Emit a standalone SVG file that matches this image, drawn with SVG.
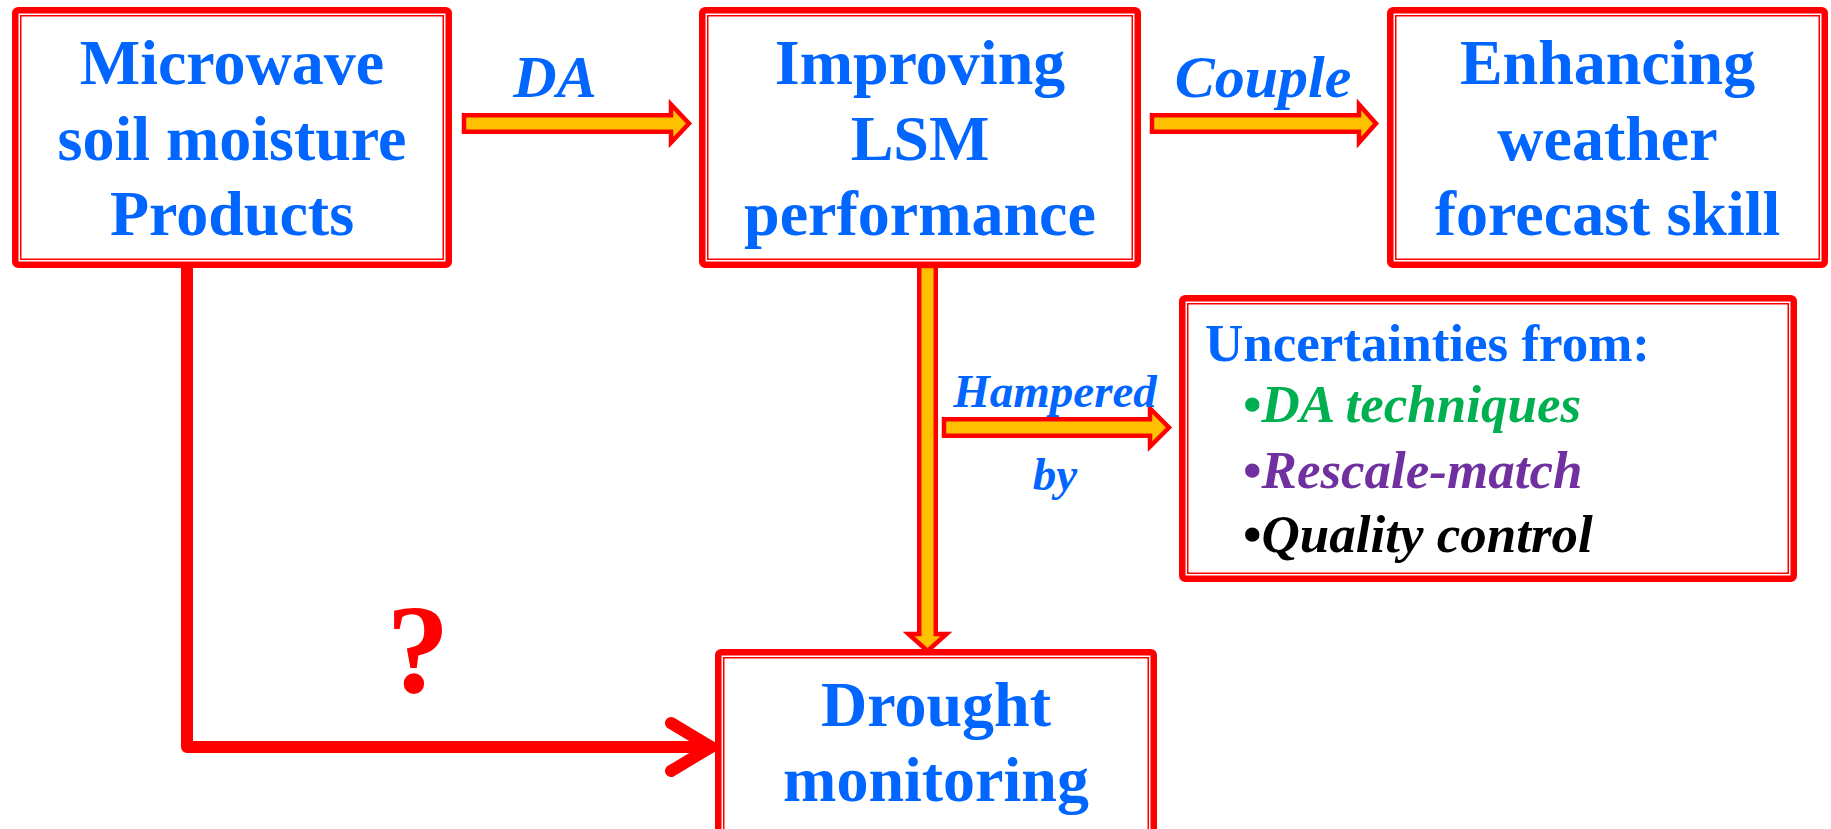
<svg xmlns="http://www.w3.org/2000/svg" width="1831" height="829" viewBox="0 0 1831 829">
<style>
.outer{fill:#fff;stroke:#ff0000;stroke-width:6.5}
.inner{fill:none;stroke:#ff0000;stroke-width:1.5}
.t{font-family:"Liberation Serif","Times New Roman",serif;font-weight:bold;fill:#0066ff;font-size:64px;text-anchor:middle}
.lbl{font-family:"Liberation Serif","Times New Roman",serif;font-weight:bold;font-style:italic;fill:#0066ff;text-anchor:middle}
.u{font-family:"Liberation Serif","Times New Roman",serif;font-weight:bold;font-size:53px}
.blk{fill:#ffc000;stroke:#ff0000;stroke-width:4.5;stroke-linejoin:miter}
.redline{fill:none;stroke:#ff0000;stroke-width:12;stroke-linejoin:round;stroke-linecap:round}
</style>
<rect width="1831" height="829" fill="#fff"/>
<g id="connectors">
<path class="redline" d="M187,268 V747 H711"/>
<path class="redline" d="M671,723 L711,747 L671,771"/>
<text x="418" y="692" font-family="Liberation Serif, Times New Roman, serif" font-weight="bold" font-size="126" fill="#ff0000" text-anchor="middle">?</text>
<path class="blk" d="M464,115.25 H671 V104.5 L689,123.5 L671,142.5 V131.75 H464 Z"/>
<text class="lbl" x="555" y="97" font-size="60">DA</text>
<path class="blk" d="M1152,115.25 H1359 V104.5 L1376,123.5 L1359,142.5 V131.75 H1152 Z"/>
<text class="lbl" x="1263" y="97" font-size="60">Couple</text>
<path class="blk" d="M919.25,266 V634 H908.5 L927.5,651 L946.5,634 H935.75 V266 Z"/>
<path class="blk" d="M944,419.25 H1150 V408.5 L1169,427.5 L1150,446.5 V435.75 H944 Z"/>
<text class="lbl" x="1055" y="407" font-size="47">Hampered</text>
<text class="lbl" x="1055" y="490" font-size="47">by</text>
</g>
<g id="node-microwave">
<rect class="outer" x="15.25" y="10.25" width="433.5" height="254.5" rx="3"/>
<rect class="inner" x="20.75" y="15.75" width="422.5" height="243.5"/>
<text class="t" x="232" y="84">Microwave</text>
<text class="t" x="232" y="160">soil moisture</text>
<text class="t" x="232" y="235">Products</text>
</g>
<g id="node-lsm">
<rect class="outer" x="702.25" y="10.25" width="435.5" height="254.5" rx="3"/>
<rect class="inner" x="707.75" y="15.75" width="424.5" height="243.5"/>
<text class="t" x="920" y="84">Improving</text>
<text class="t" x="920" y="160">LSM</text>
<text class="t" x="920" y="235">performance</text>
</g>
<g id="node-weather">
<rect class="outer" x="1390.25" y="10.25" width="434.5" height="254.5" rx="3"/>
<rect class="inner" x="1395.75" y="15.75" width="423.5" height="243.5"/>
<text class="t" x="1607.5" y="84">Enhancing</text>
<text class="t" x="1607.5" y="160">weather</text>
<text class="t" x="1607.5" y="235">forecast skill</text>
</g>
<g id="node-uncertainties">
<rect class="outer" x="1182.25" y="298.25" width="611.5" height="280.5" rx="3"/>
<rect class="inner" x="1187.75" y="303.75" width="600.5" height="269.5"/>
<text class="u" x="1205" y="361" fill="#0066ff">Uncertainties from:</text>
<text class="u" x="1243" y="422" fill="#00b050">•<tspan font-style="italic">DA techniques</tspan></text>
<text class="u" x="1243" y="488" fill="#7030a0">•<tspan font-style="italic">Rescale-match</tspan></text>
<text class="u" x="1243" y="552" fill="#000000">•<tspan font-style="italic">Quality control</tspan></text>
</g>
<g id="node-drought">
<rect class="outer" x="718.25" y="652.25" width="435.5" height="190" rx="3"/>
<rect class="inner" x="723.75" y="657.75" width="424.5" height="180"/>
<text class="t" x="936" y="726">Drought</text>
<text class="t" x="936" y="801">monitoring</text>
</g>
</svg>
